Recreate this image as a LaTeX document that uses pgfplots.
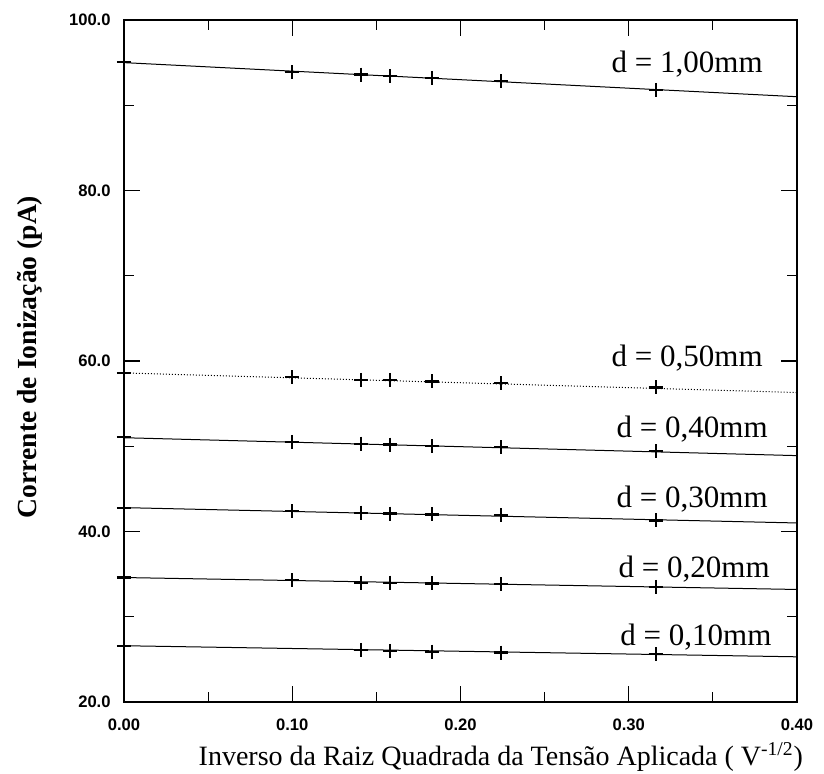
\documentclass[border=0pt]{standalone}
\usepackage{fontspec}
\setmainfont{Liberation Serif}
\setsansfont{Liberation Sans}
\usepackage{pgfplots}
\pgfplotsset{compat=1.18}
\begin{document}
\begin{tikzpicture}
\useasboundingbox (-62pt,-36pt) rectangle (350pt,351pt);
\begin{axis}[
  at={(0pt,0pt)}, anchor=south west,
  scale only axis, width=336.5pt, height=341pt,
  xmin=0, xmax=0.4, ymin=20, ymax=100,
  clip=false,
  xtick={0,0.1,0.2,0.3,0.4}, xticklabels={0.00,0.10,0.20,0.30,0.40},
  ytick={20,40,60,80,100}, yticklabels={20.0,40.0,60.0,80.0,100.0},
  minor x tick num=1, minor y tick num=1,
  tick align=inside, major tick length=8pt, minor tick length=5pt,
  tick style={black, line width=0.6pt},
  axis line style={line width=0.8pt},
  ticklabel style={font=\sffamily\bfseries\fontsize{8.3}{10}\selectfont},
  xticklabel style={inner sep=0pt, anchor=north, yshift=-8.5pt},
  yticklabel style={inner sep=0pt, anchor=east, xshift=-6.5pt},
  xlabel={Inverso da Raiz Quadrada da Tensão Aplicada ( V\textsuperscript{-1/2})},
  xlabel style={at={(axis description cs:0.56,-0.0938)}, anchor=base, font=\fontsize{14}{16}\selectfont},
  ylabel={Corrente de Ionização (pA)},
  ylabel style={at={(axis description cs:-0.1397,0.506)}, anchor=center, rotate=0, font=\bfseries\fontsize{13.8}{16}\selectfont},
]
% d = 1,00 mm
\addplot[only marks, mark=+, mark size=3.5pt, line width=1.1pt] coordinates {
 (0,95.1) (0.1,93.9) (0.141,93.6) (0.158,93.4) (0.183,93.2) (0.224,92.8) (0.316,91.8)};
\addplot[no markers, line width=0.5pt] coordinates {(0,95.0) (0.4,91.0)};
% d = 0,50 mm
\addplot[only marks, mark=+, mark size=3.5pt, line width=1.1pt] coordinates {
 (0,58.6) (0.1,58.1) (0.141,57.8) (0.158,57.8) (0.183,57.6) (0.224,57.4) (0.316,56.9)};
\addplot[no markers, line width=0.5pt, densely dotted] coordinates {(0,58.6) (0.4,56.3)};
% d = 0,40 mm
\addplot[only marks, mark=+, mark size=3.5pt, line width=1.1pt] coordinates {
 (0,51.1) (0.1,50.5) (0.141,50.3) (0.158,50.2) (0.183,50.0) (0.224,49.9) (0.316,49.4)};
\addplot[no markers, line width=0.5pt] coordinates {(0,51.0) (0.4,48.9)};
% d = 0,30 mm
\addplot[only marks, mark=+, mark size=3.5pt, line width=1.1pt] coordinates {
 (0,42.8) (0.1,42.4) (0.141,42.2) (0.158,42.1) (0.183,42.0) (0.224,41.9) (0.316,41.3)};
\addplot[no markers, line width=0.5pt] coordinates {(0,42.8) (0.4,41.0)};
% d = 0,20 mm
\addplot[only marks, mark=+, mark size=3.5pt, line width=1.1pt] coordinates {
 (0,34.6) (0.1,34.3) (0.141,34.0) (0.158,34.0) (0.183,33.9) (0.224,33.8) (0.316,33.5)};
\addplot[no markers, line width=0.5pt] coordinates {(0,34.6) (0.4,33.2)};
% d = 0,10 mm
\addplot[only marks, mark=+, mark size=3.5pt, line width=1.1pt] coordinates {
 (0,26.6) (0.141,26.1) (0.158,26.0) (0.183,25.9) (0.224,25.8) (0.316,25.6)};
\addplot[no markers, line width=0.5pt] coordinates {(0,26.6) (0.4,25.3)};

\begin{scope}[every node/.style={anchor=base east, inner sep=0pt, font=\fontsize{15.5}{18}\selectfont}]
\node at (axis cs:0.3798,93.8) {d = 1,00mm};
\node at (axis cs:0.3798,59.3) {d = 0,50mm};
\node at (axis cs:0.3828,51.0) {d = 0,40mm};
\node at (axis cs:0.3828,42.8) {d = 0,30mm};
\node at (axis cs:0.3840,34.6) {d = 0,20mm};
\node at (axis cs:0.3850,26.6) {d = 0,10mm};
\end{scope}
\end{axis}
\end{tikzpicture}
\end{document}
